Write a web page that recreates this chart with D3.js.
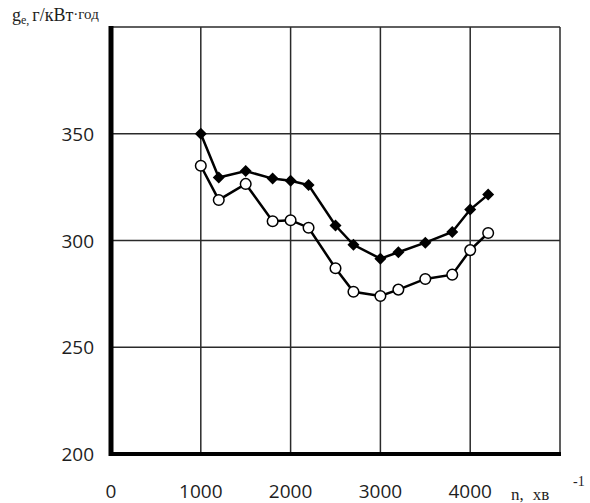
<!DOCTYPE html>
<html>
<head>
<meta charset="utf-8">
<script src="https://cdn.jsdelivr.net/npm/d3@7"></script>
<style>
	body { margin: 0; background: #fff; }
	.tick-label { font-family: "Open Sans", sans-serif; font-size: 19px; fill: #1e1e1e; }
	.unit { font-family: "Liberation Serif", "DejaVu Serif", serif; fill: #1e1e1e; }
	.grid { stroke: #2a2a2a; stroke-width: 1.5px; }
	.series { fill: none; stroke: #000; stroke-width: 2.5px; }
</style>
</head>
<body>
<script>
var width = 590,
	height = 503;

// engine speed, rpm
var speedFilled = [1000, 1200, 1500, 1800, 2000, 2200, 2500, 2700, 3000, 3200, 3500, 3800, 4000, 4200];
var geFilled = [350, 329.5, 332.5, 329, 328, 326, 307, 298, 291.5, 294.5, 299, 304, 314.5, 321.5];

var speedOpen = [1000, 1200, 1500, 1800, 2000, 2200, 2500, 2700, 3000, 3200, 3500, 3800, 4000, 4200];
var geOpen = [335, 319, 326.5, 309, 309.5, 306, 287, 276, 274, 277, 282, 284, 295.5, 303.5];

var xTicks = [0, 1000, 2000, 3000, 4000];
var yTicks = [200, 250, 300, 350];
var xGrid = [1000, 2000, 3000, 4000, 5000];
var yGrid = [250, 300, 350, 400];

var x = d3.scaleLinear().domain([0, 5000]).range([111, 560]);
var y = d3.scaleLinear().domain([200, 400]).range([454, 27]);

var svg = d3.select("body").append("svg")
	.attr("width", width)
	.attr("height", height);

// grid
svg.append("g").selectAll("line")
	.data(xGrid)
  .enter().append("line")
	.attr("class", "grid")
	.attr("x1", function(d) { return x(d); })
	.attr("x2", function(d) { return x(d); })
	.attr("y1", y(400))
	.attr("y2", y(200));

svg.append("g").selectAll("line")
	.data(yGrid)
  .enter().append("line")
	.attr("class", "grid")
	.attr("x1", x(0))
	.attr("x2", x(5000))
	.attr("y1", function(d) { return y(d); })
	.attr("y2", function(d) { return y(d); });

// thick axes
svg.append("line")
	.attr("x1", x(0)).attr("x2", x(0))
	.attr("y1", y(400) - 1).attr("y2", y(200) + 2)
	.attr("stroke", "#000").attr("stroke-width", 5);
svg.append("line")
	.attr("x1", x(0) - 2).attr("x2", x(5000) + 1)
	.attr("y1", y(200)).attr("y2", y(200))
	.attr("stroke", "#000").attr("stroke-width", 4);

// tick labels
svg.append("g").selectAll("text")
	.data(yTicks)
  .enter().append("text")
	.attr("class", "tick-label")
	.attr("x", 94)
	.attr("y", function(d) { return y(d) + 7; })
	.attr("text-anchor", "end")
	.text(function(d) { return d; });

svg.append("g").selectAll("text")
	.data(xTicks)
  .enter().append("text")
	.attr("class", "tick-label")
	.attr("x", function(d) { return x(d); })
	.attr("y", 498)
	.attr("text-anchor", "middle")
	.text(function(d) { return d; });

// series
function draw(xs, ys, filled) {
	var pts = xs.map(function(d, i) { return [d, ys[i]]; });
	var line = d3.line()
		.x(function(d) { return x(d[0]); })
		.y(function(d) { return y(d[1]); });
	svg.append("path")
		.attr("class", "series")
		.attr("d", line(pts));
	if (filled) {
		svg.append("g").selectAll("path")
			.data(pts)
		  .enter().append("path")
			.attr("d", d3.symbol().type(d3.symbolSquare).size(72))
			.attr("transform", function(d) { return "translate(" + x(d[0]) + "," + y(d[1]) + ") rotate(45)"; })
			.attr("fill", "#000");
	} else {
		svg.append("g").selectAll("circle")
			.data(pts)
		  .enter().append("circle")
			.attr("cx", function(d) { return x(d[0]); })
			.attr("cy", function(d) { return y(d[1]); })
			.attr("r", 5.3)
			.attr("fill", "#fff")
			.attr("stroke", "#000")
			.attr("stroke-width", 1.5);
	}
}
draw(speedOpen, geOpen, false);
draw(speedFilled, geFilled, true);

// axis titles
var yt = svg.append("text").attr("class", "unit").attr("x", 12).attr("y", 21).attr("font-size", 18);
yt.append("tspan").text("g");
yt.append("tspan").attr("font-size", 12).attr("dy", 3).text("e,");
yt.append("tspan").attr("dy", -3).attr("dx", 3).text("г/кВт");
yt.append("tspan").attr("font-size", 15).attr("dy", -2).text("·год");

var xt = svg.append("text").attr("class", "unit").attr("x", 511).attr("y", 500).attr("font-size", 17);
xt.append("tspan").text("n,");
xt.append("tspan").attr("dx", 9).text("хв");
xt.append("tspan").attr("x", 573).attr("y", 486).attr("font-size", 14).text("-1");
</script>
</body>
</html>
